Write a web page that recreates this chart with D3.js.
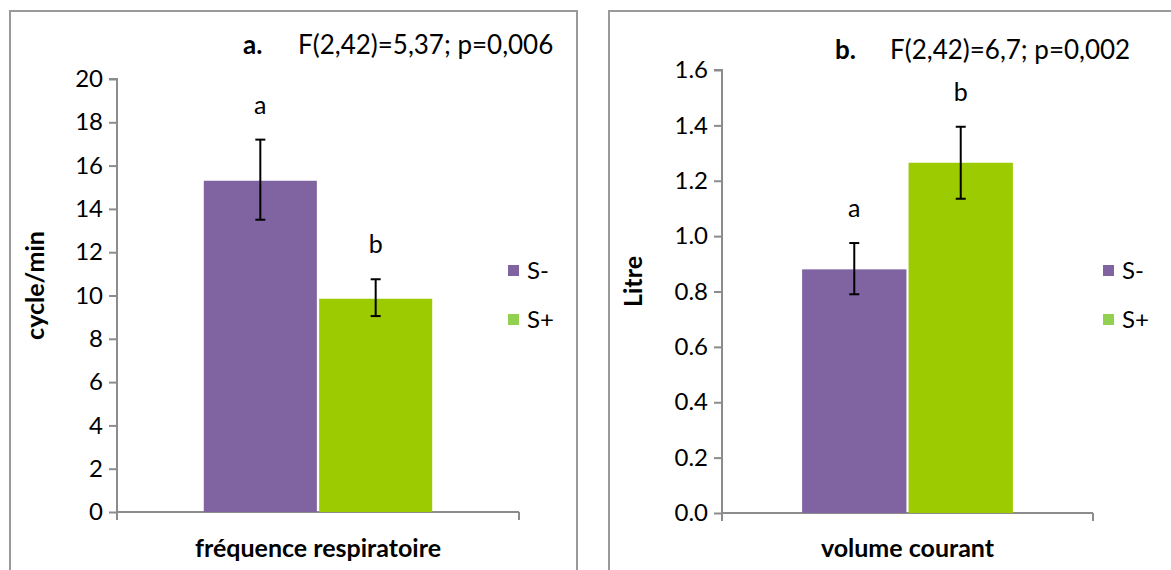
<!DOCTYPE html>
<html>
<head>
<meta charset="utf-8">
<script src="https://cdn.jsdelivr.net/npm/d3@7"></script>
<style>
  body { margin: 0; background: #fff; }
  text { font-family: Lato, "Open Sans", sans-serif; fill: #000; }
</style>
</head>
<body>
<svg id="chart" width="1171" height="570"></svg>
<script>
// Data
var groups = ["S-", "S+"];
var colors = ["#8064a2", "#9bcb00"];
var legendColors = ["#8064a2", "#92d050"];

var freqValues = [15.3, 9.85];
var freqErrLow = [13.5, 9.05];
var freqErrHigh = [17.2, 10.75];
var freqLetters = ["a", "b"];
var freqTicks = [0, 2, 4, 6, 8, 10, 12, 14, 16, 18, 20];

var volValues = [0.88, 1.265];
var volErrLow = [0.79, 1.135];
var volErrHigh = [0.975, 1.395];
var volLetters = ["a", "b"];
var volTicks = [0, 0.2, 0.4, 0.6, 0.8, 1.0, 1.2, 1.4, 1.6];

var svg = d3.select("#chart");

function drawPanel(opts) {
  // frame
  svg.append("rect")
    .attr("x", opts.frame[0]).attr("y", opts.frame[1])
    .attr("width", opts.frame[2]).attr("height", opts.frame[3])
    .attr("fill", "none").attr("stroke", "#9a9a9a").attr("stroke-width", 2);

  var y = d3.scaleLinear().domain(opts.domain).range([opts.y0, opts.y1]);
  var xCat = d3.scaleBand().domain([opts.category]).range([opts.x0, opts.x1]).paddingInner(0).paddingOuter(0.38);
  var xGroup = d3.scaleBand().domain(groups).range([0, xCat.bandwidth()]).paddingInner(0.02);

  var g = svg.append("g");

  // y axis
  var yAxis = d3.axisLeft(y).tickValues(opts.ticks).tickSize(8).tickPadding(6)
    .tickFormat(opts.fmt);
  var ya = g.append("g").attr("transform", `translate(${opts.x0},0)`).call(yAxis);
  ya.select(".domain").attr("stroke", "#8c8c8c").attr("stroke-width", 2).attr("d", `M-8,${opts.y1}H0V${opts.y0}`);
  ya.selectAll(".tick line").attr("stroke", "#8c8c8c").attr("stroke-width", 2);
  ya.selectAll(".tick text").style("font-size", "24px").style("font-family", "Lato, sans-serif");

  // x axis line
  g.append("line")
    .attr("x1", opts.x0).attr("x2", opts.x1)
    .attr("y1", opts.y0).attr("y2", opts.y0)
    .attr("stroke", "#8c8c8c").attr("stroke-width", 2);
  [opts.x0, opts.x1].forEach(function(xx) {
    g.append("line")
      .attr("x1", xx).attr("x2", xx)
      .attr("y1", opts.y0).attr("y2", opts.y0 + 8)
      .attr("stroke", "#8c8c8c").attr("stroke-width", 2);
  });

  // bars
  var rows = groups.map(function(k, i) {
    return { key: k, v: opts.values[i], lo: opts.lo[i], hi: opts.hi[i], letter: opts.letters[i], color: colors[i] };
  });
  var bx = function(d) { return xCat(opts.category) + xGroup(d.key); };

  g.selectAll("rect.bar")
    .data(rows).enter().append("rect")
    .attr("class", "bar")
    .attr("x", bx)
    .attr("y", function(d) { return y(d.v); })
    .attr("width", xGroup.bandwidth())
    .attr("height", function(d) { return y(0) - y(d.v); })
    .attr("fill", function(d) { return d.color; });

  // error bars
  var cx = function(d) { return bx(d) + xGroup.bandwidth() / 2; };
  rows.forEach(function(d) {
    g.append("line").attr("x1", cx(d)).attr("x2", cx(d))
      .attr("y1", y(d.lo)).attr("y2", y(d.hi)).attr("stroke", "#000").attr("stroke-width", 2);
    [d.lo, d.hi].forEach(function(v) {
      g.append("line").attr("x1", cx(d) - 5).attr("x2", cx(d) + 5)
        .attr("y1", y(v)).attr("y2", y(v)).attr("stroke", "#000").attr("stroke-width", 2);
    });
    g.append("text")
      .attr("x", cx(d)).attr("y", y(d.hi) - 26)
      .attr("text-anchor", "middle")
      .style("font-size", "25px")
      .text(d.letter);
  });

  // axis titles
  g.append("text")
    .attr("transform", `translate(${opts.ylabX},${(opts.y0 + opts.y1) / 2 - 10}) rotate(-90)`)
    .attr("text-anchor", "middle")
    .style("font-size", "25px").style("font-weight", "bold")
    .text(opts.ylabel);

  g.append("text")
    .attr("x", (opts.x0 + opts.x1) / 2).attr("y", 557)
    .attr("text-anchor", "middle")
    .style("font-size", "25px").style("font-weight", "bold")
    .text(opts.category);

  // title
  g.append("text")
    .attr("x", opts.titleX).attr("y", opts.titleY)
    .style("font-size", "26px").style("font-weight", "bold")
    .text(opts.tag);
  g.append("text")
    .attr("x", opts.statX).attr("y", opts.titleY)
    .style("font-size", "26px")
    .text(opts.stat);

  // legend
  groups.forEach(function(k, i) {
    g.append("rect")
      .attr("x", opts.legX).attr("y", 265 + i * 49)
      .attr("width", 11).attr("height", 11)
      .attr("fill", legendColors[i]);
    g.append("text")
      .attr("x", opts.legX + 19).attr("y", 279 + i * 49)
      .style("font-size", "24px")
      .text(k);
  });
}

drawPanel({
  frame: [10, 11, 567, 570],
  domain: [0, 20], ticks: freqTicks, fmt: d3.format("d"),
  x0: 117, x1: 519, y0: 512, y1: 79,
  values: freqValues, lo: freqErrLow, hi: freqErrHigh, letters: freqLetters,
  category: "fréquence respiratoire", ylabel: "cycle/min", ylabX: 44,
  tag: "a.", stat: "F(2,42)=5,37; p=0,006", titleX: 243, statX: 298, titleY: 54,
  legX: 508
});

drawPanel({
  frame: [609, 11, 600, 570],
  domain: [0, 1.6], ticks: volTicks, fmt: d3.format(".1f"),
  x0: 722, x1: 1093, y0: 513, y1: 70,
  values: volValues, lo: volErrLow, hi: volErrHigh, letters: volLetters,
  category: "volume courant", ylabel: "Litre", ylabX: 642,
  tag: "b.", stat: "F(2,42)=6,7; p=0,002", titleX: 835, statX: 890, titleY: 59,
  legX: 1103
});
</script>
</body>
</html>
